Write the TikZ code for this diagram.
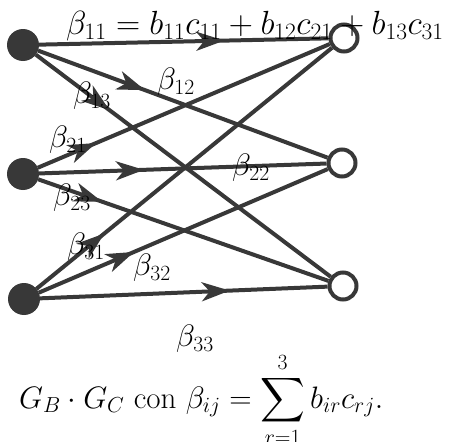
\RequirePackage{fix-cm}
\documentclass[tikz,border=0pt]{standalone}
\DeclareFontShape{OMX}{cmex}{m}{n}{<->cmex10}{}
\usetikzlibrary{arrows.meta,decorations.markings}
\definecolor{edgegray}{RGB}{56,56,56}
\tikzset{
  src/.style={circle,fill=edgegray,draw=none,minimum size=32pt,inner sep=0pt,outer sep=0pt},
  dst/.style={circle,fill=white,draw=edgegray,line width=4pt,minimum size=27pt,inner sep=0pt},
  conn/.style={draw=edgegray,color=edgegray,line width=4pt},
  midarrow/.style={postaction={decorate},decoration={markings,mark=at position #1 with {\arrow{Stealth[length=28pt,width=19pt,inset=8pt]}}}},
  lbl/.style={inner sep=0pt,font=\fontsize{31}{37}\selectfont},
  bigl/.style={inner sep=0pt,font=\fontsize{33.5}{40}\selectfont}
}
\begin{document}
\begin{tikzpicture}[x=1pt,y=-1pt]
\useasboundingbox (0,0) rectangle (451,442);
% source nodes
\node[src] (L1) at (23,45) {};
\node[src] (L2) at (23,174) {};
\node[src] (L3) at (24,299) {};
% target nodes
\node[dst] (R1) at (344,38) {};
\node[dst] (R2) at (342,163) {};
\node[dst] (R3) at (343,286) {};
% edges
\draw[conn,midarrow=0.64]  (L1) -- (R1);
\draw[conn,midarrow=0.37]  (L1) -- (R2);
\draw[conn,midarrow=0.25]  (L1) -- (R3);
\draw[conn,midarrow=0.20]  (L2) -- (R1);
\draw[conn,midarrow=0.365] (L2) -- (R2);
\draw[conn,midarrow=0.22]  (L2) -- (R3);
\draw[conn,midarrow=0.23]  (L3) -- (R1);
\draw[conn,midarrow=0.33]  (L3) -- (R2);
\draw[conn,midarrow=0.66]  (L3) -- (R3);
% labels
\node[bigl,anchor=base west] (b11) at (66,34) {$\beta_{11} = b_{11}c_{11} + b_{12}c_{21} + b_{13}c_{31}$};
\node[lbl] (b12) at (176,82) {$\beta_{12}$};
\node[lbl] (b13) at (92,96) {$\beta_{13}$};
\node[lbl] (b21) at (68,140) {$\beta_{21}$};
\node[lbl] (b22) at (251,168) {$\beta_{22}$};
\node[lbl] (b23) at (72,198) {$\beta_{23}$};
\node[lbl] (b31) at (86,247) {$\beta_{31}$};
\node[lbl] (b32) at (152,268) {$\beta_{32}$};
\node[lbl] (b33) at (195,339) {$\beta_{33}$};
\node[lbl,anchor=base west] (form) at (19,408) {$G_B\cdot G_C$ con $\beta_{ij} = \displaystyle\sum_{r=1}^{3} b_{ir}c_{rj}.$};
\end{tikzpicture}
\end{document}
